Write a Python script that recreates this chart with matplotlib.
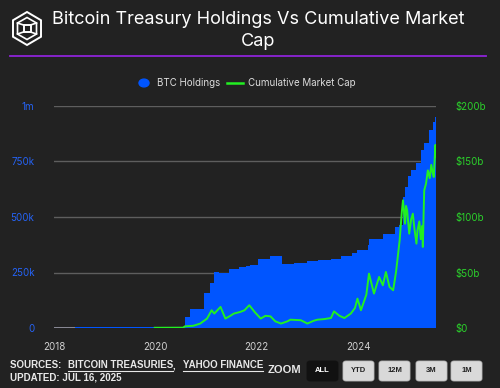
import numpy as np
import pandas as pd
import matplotlib
matplotlib.use("Agg")
import matplotlib.pyplot as plt
from matplotlib.patches import Circle, FancyBboxPatch, Polygon
from matplotlib.lines import Line2D

# ---- data ----
hold_dates = ["2018-01-01", "2018-06-01", "2019-01-01", "2019-06-01", "2020-01-01",
              "2020-08-01", "2020-09-10", "2020-12-15", "2021-01-28", "2021-02-25",
              "2021-04-01", "2021-06-15", "2021-08-25", "2021-10-15", "2021-11-15",
              "2022-01-08", "2022-04-10", "2022-07-05", "2022-09-25", "2023-01-01",
              "2023-03-15", "2023-06-20", "2023-08-28", "2023-11-20", "2023-12-28",
              "2024-03-10", "2024-03-22", "2024-06-28", "2024-09-20", "2024-10-25",
              "2024-11-20", "2024-12-05", "2024-12-25", "2025-01-18", "2025-02-25",
              "2025-04-01", "2025-04-22", "2025-05-30", "2025-06-25", "2025-07-08"]
btc_holdings = [2000, 3000, 4000, 5000, 6000,
                50000, 87000, 158000, 203000, 253000,
                248000, 265000, 274000, 280000, 283000,
                309000, 323000, 290000, 295000, 300000,
                305000, 313000, 323000, 336000, 350000,
                373000, 400000, 423000, 456000, 463000,
                591000, 636000, 684000, 711000, 742000,
                802000, 832000, 892000, 930000, 949000]

cap_dates = ["2019-12-28", "2020-07-20", "2020-08-01",
             "2020-10-01", "2020-11-20", "2021-01-08", "2021-02-10", "2021-03-01",
             "2021-04-15", "2021-05-20", "2021-06-25", "2021-07-20", "2021-09-05",
             "2021-10-05", "2021-11-08", "2021-11-18", "2021-12-20", "2022-01-30",
             "2022-03-05", "2022-04-10", "2022-05-15", "2022-06-25", "2022-08-10",
             "2022-09-01", "2022-11-15", "2023-01-01", "2023-02-15", "2023-03-15",
             "2023-05-01", "2023-06-20", "2023-07-12", "2023-08-20", "2023-09-25",
             "2023-11-10", "2023-12-10", "2023-12-28", "2024-01-22", "2024-03-01",
             "2024-03-20", "2024-04-25", "2024-06-01", "2024-06-28", "2024-07-20",
             "2024-08-15", "2024-09-10", "2024-10-01", "2024-10-27", "2024-11-12",
             "2024-11-20", "2024-12-05", "2024-12-12", "2024-12-20", "2025-01-04",
             "2025-01-18", "2025-01-30", "2025-02-10", "2025-02-25", "2025-03-05",
             "2025-03-18", "2025-03-28", "2025-04-08", "2025-04-12", "2025-04-22",
             "2025-05-05", "2025-05-18", "2025-06-01", "2025-06-12", "2025-06-22",
             "2025-06-30", "2025-07-12", "2025-07-16"]
market_cap_b = [0.2, 0.3, 1.5,
                2.0, 4.0, 8.5, 16, 13,
                19, 8.5, 11, 13, 14.5,
                16, 20.5, 19, 14, 8.5,
                11, 10.5, 6, 4, 6,
                7.5, 7, 4, 6.5, 7.5,
                8, 9, 15, 11, 9,
                13, 18, 26.5, 16, 30,
                49, 31, 46, 38.5, 50.5,
                37, 34, 50.5, 79, 105,
                115, 94, 110, 106, 85,
                98, 103, 90, 76, 88,
                96, 80, 92, 73, 124,
                130, 142, 135, 147, 140,
                136, 165, 154]

left_ticks = [0, 250000, 500000, 750000, 1000000]
left_labels = ["0", "250k", "500k", "750k", "1m"]
right_ticks = [0, 50, 100, 150, 200]
right_labels = ["$0", "$50b", "$100b", "$150b", "$200b"]
year_ticks = ["2018-01-01", "2020-01-01", "2022-01-01", "2024-01-01"]
year_labels = ["2018", "2020", "2022", "2024"]

BG = "#222222"
BLUE = "#0055ff"
GREEN = "#22f022"
W, H = 500, 388

def fx(x):
    return x / W

def fy(y):
    return 1 - y / H

plt.rcParams["font.family"] = ["Inter", "DejaVu Sans"]

fig = plt.figure(figsize=(5, 3.88), dpi=100, facecolor=BG)

# ---- header ----
fig.text(fx(258), fy(20), "Bitcoin Treasury Holdings Vs Cumulative Market",
         color="white", fontsize=13, ha="center", va="center")
fig.text(fx(258), fy(42), "Cap", color="white", fontsize=13, ha="center", va="center")
fig.add_artist(Line2D([fx(10), fx(486)], [fy(56), fy(56)], color="#8e24d8", lw=1.3))

# logo: outlined cube
cx, cy, r = 27, 28.5, 16.5
hexpts = []
for a in [90, 30, -30, -90, -150, 150]:
    hexpts.append((fx(cx + r * np.cos(np.radians(a)) * 0.98), fy(cy - r * np.sin(np.radians(a)))))
fig.add_artist(Polygon(hexpts, closed=True, fill=False, ec="white", lw=1.4))
s = 3.5
sq = [(cx - s, cy - s), (cx + s, cy - s), (cx + s, cy + s), (cx - s, cy + s)]
fig.add_artist(Polygon([(fx(a), fy(b)) for a, b in sq], closed=True, fill=False, ec="white", lw=1.4))
inner = [(cx, cy - 11), (cx + 9.5, cy - 5.5), (cx + 9.5, cy + 5.5), (cx, cy + 11),
         (cx - 9.5, cy + 5.5), (cx - 9.5, cy - 5.5)]
fig.add_artist(Polygon([(fx(a), fy(b)) for a, b in inner], closed=True, fill=False, ec="white", lw=1.2))
for (a, b), (c, d) in zip(sq, [(cx - 9.5, cy - 5.5), (cx + 9.5, cy - 5.5),
                               (cx + 9.5, cy + 5.5), (cx - 9.5, cy + 5.5)]):
    fig.add_artist(Line2D([fx(a), fx(c)], [fy(b), fy(d)], color="white", lw=1.2))

# legend
fig.add_artist(Circle((fx(144), fy(83)), 5 / W, color=BLUE, transform=fig.transFigure))
fig.text(fx(157), fy(83), "BTC Holdings", color="#dddddd", fontsize=7, va="center")
fig.add_artist(Line2D([fx(227), fx(243)], [fy(83), fy(83)], color=GREEN, lw=1.8))
fig.text(fx(248), fy(83), "Cumulative Market Cap", color="#dddddd", fontsize=7, va="center")

# ---- chart ----
ax = fig.add_axes([fx(54), fy(328), fx(436) - fx(54), fy(106) - fy(328)])
ax.set_facecolor(BG)
end = pd.Timestamp("2025-07-16")
hd = list(pd.to_datetime(hold_dates)) + [end]
hv = btc_holdings + [btc_holdings[-1]]
ax.fill_between(hd, hv, step="post", color=BLUE, lw=0, zorder=2)
ax.set_ylim(0, 1000000)
ax.set_xlim(pd.Timestamp("2018-01-01"), end)
ax.set_yticks(left_ticks)
ax.set_yticklabels(left_labels)
ax.set_xticks(pd.to_datetime(year_ticks))
ax.set_xticklabels(year_labels)
ax.tick_params(axis="y", colors="#2563f5", labelsize=7, length=0, pad=14)
ax.tick_params(axis="x", colors="#d0d0d0", labelsize=7, length=0, pad=10)
ax.grid(axis="y", color="#5e5e5e", lw=1)
ax.set_axisbelow(True)
for sp in ax.spines.values():
    sp.set_visible(False)
ax.axhline(0, color="#9a9aa8", lw=1.2, zorder=1.5)

ax2 = ax.twinx()
ax2.plot(pd.to_datetime(cap_dates), market_cap_b, color=GREEN, lw=1.4, zorder=4)
ax2.set_ylim(0, 200)
ax2.set_yticks(right_ticks)
ax2.set_yticklabels(right_labels)
ax2.tick_params(axis="y", colors="#2bd12b", labelsize=7, length=0, pad=14)
for sp in ax2.spines.values():
    sp.set_visible(False)

# ---- footer ----
fig.canvas.draw()
rend = fig.canvas.get_renderer()
x0 = fx(10)
parts = [("SOURCES: ", False), ("BITCOIN TREASURIES", True), (", ", False), ("YAHOO FINANCE", True)]
for txt, und in parts:
    t = fig.text(x0, fy(365), txt, color="#e8e8e8", fontsize=7, fontweight="bold",
                 va="center", family=["Liberation Sans", "DejaVu Sans"])
    bb = t.get_window_extent(rend).transformed(fig.transFigure.inverted())
    if und:
        fig.add_artist(Line2D([bb.x0, bb.x1], [fy(370.5), fy(370.5)], color="#e8e8e8", lw=0.8))
    x0 = bb.x1 + (0.008 if txt.endswith(" ") else 0)
fig.text(fx(10), fy(378), "UPDATED: JUL 16, 2025", color="#e8e8e8", fontsize=7,
         fontweight="bold", va="center", family=["Liberation Sans", "DejaVu Sans"])
fig.text(fx(268), fy(370), "ZOOM", color="#e8e8e8", fontsize=8, fontweight="bold",
         va="center", family=["Liberation Sans", "DejaVu Sans"])

buttons = ["ALL", "YTD", "12M", "3M", "1M"]
bx = [307, 343, 379, 416, 451]
for i, (lab, x) in enumerate(zip(buttons, bx)):
    dark = i == 0
    fig.add_artist(FancyBboxPatch((fx(x), fy(381)), 31 / W, 20 / H,
                                  boxstyle="round,pad=0,rounding_size=0.006",
                                  fc="#111111" if dark else "#d9d9d9",
                                  ec="#111111" if dark else "#bbbbbb", lw=0.6,
                                  transform=fig.transFigure))
    fig.text(fx(x + 15.5), fy(371), lab, color="white" if dark else "#222222",
             fontsize=5.5, fontweight="bold", ha="center", va="center",
             family=["Liberation Sans", "DejaVu Sans"])

fig.savefig("out.png", dpi=100, facecolor=BG)
